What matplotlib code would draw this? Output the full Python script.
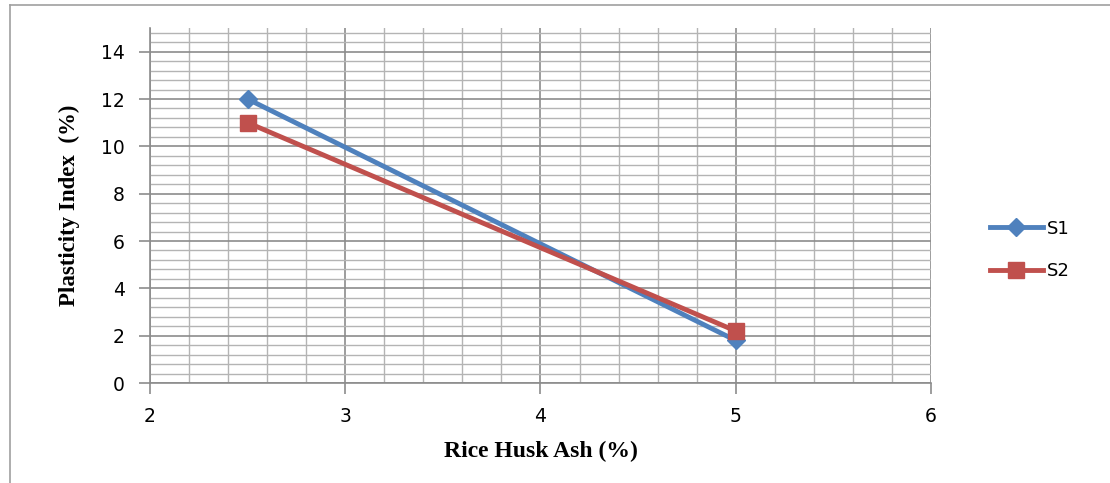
import numpy as np
import matplotlib.pyplot as plt
from matplotlib.lines import Line2D
from matplotlib.ticker import MultipleLocator

# data
rha = [2.5, 5]
s1 = [12, 1.8]
s2 = [11, 2.2]
xticks = [2, 3, 4, 5, 6]
yticks = [0, 2, 4, 6, 8, 10, 12, 14]

fig = plt.figure(figsize=(11.1, 4.83), dpi=100)
ax = fig.add_axes([0.1351, 0.207, 0.7036, 0.735])

ax.plot(rha, s1, color='#4F81BD', lw=3.5, marker='D', ms=9, label='S1', zorder=3)
ax.plot(rha, s2, color='#C0504D', lw=3.5, marker='s', ms=11, label='S2', zorder=3)

ax.set_xlim(2, 6)
ax.set_ylim(0, 15)
ax.set_xticks(xticks)
ax.set_yticks(yticks)
ax.xaxis.set_minor_locator(MultipleLocator(0.2))
ax.yaxis.set_minor_locator(MultipleLocator(0.4))
ax.grid(which='major', color='#8c8c8c', lw=1.2)
ax.grid(which='minor', color='#b4b4b4', lw=1.0)
ax.set_axisbelow(True)
ax.tick_params(which='major', direction='out', length=8, width=1.2, color='#8c8c8c',
               labelsize=13.5)
ax.tick_params(axis='y', pad=10)
ax.tick_params(axis='x', pad=9)
ax.tick_params(which='minor', length=0)
for lab in ax.get_xticklabels() + ax.get_yticklabels():
    lab.set_family('DejaVu Sans')
for sp in ['top', 'right']:
    ax.spines[sp].set_visible(False)
for sp in ['left', 'bottom']:
    ax.spines[sp].set_color('#8c8c8c')
    ax.spines[sp].set_linewidth(1.2)

ax.set_xlabel('Rice Husk Ash (%)', family='Liberation Serif', fontweight='bold',
              fontsize=17, labelpad=11)
ax.set_ylabel('Plasticity Index  (%)', family='Liberation Serif', fontweight='bold',
              fontsize=16.5, labelpad=15)

leg = ax.legend(loc='center left', bbox_to_anchor=(1.055, 0.375), frameon=False,
                fontsize=13, handlelength=2.9, labelspacing=1.35, handletextpad=0.25)

# outer chart frame
fig.add_artist(Line2D([0.009, 0.009], [0.0, 0.99], color='#a0a0a0', lw=1.2))
fig.add_artist(Line2D([0.009, 1.0], [0.99, 0.99], color='#a0a0a0', lw=1.2))

fig.savefig('out.png', dpi=100)
